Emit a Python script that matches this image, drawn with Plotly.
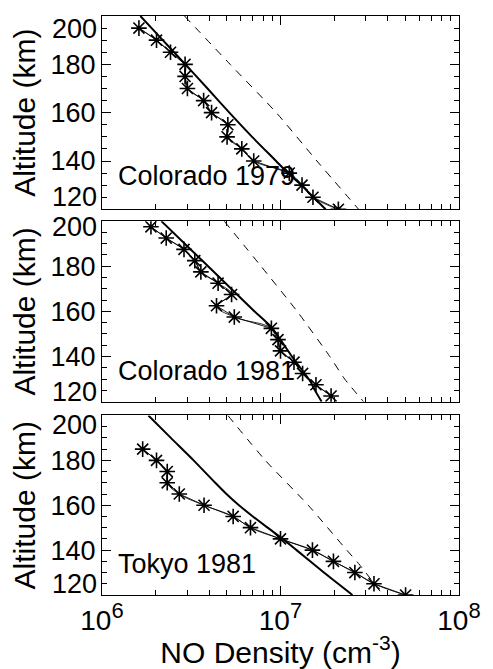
import plotly.graph_objects as go

# ---------------- data ----------------
panel_labels = ["Colorado 1979", "Colorado 1981", "Tokyo 1981"]

# measured NO density profiles (asterisks)
alt_obs_1979 = [195, 190, 185, 180, 175, 170, 165, 160, 155, 150, 145, 140, 135, 130, 125, 120]
no_obs_1979 = [1.61e6, 2.02e6, 2.42e6, 2.92e6, 2.92e6, 3.01e6, 3.71e6, 4.11e6, 5.07e6, 5.02e6,
               6.07e6, 7.08e6, 1.12e7, 1.32e7, 1.52e7, 2.11e7]

alt_obs_c1981 = [197.5, 192.5, 187.5, 182.5, 177.5, 172.5, 167.5, 162.5, 157.5, 152.5,
                 147.5, 142.5, 137.5, 132.5, 127.5, 122.5]
no_obs_c1981 = [1.88e6, 2.29e6, 2.88e6, 3.31e6, 3.58e6, 4.47e6, 5.32e6, 4.38e6, 5.51e6, 8.89e6,
                9.68e6, 1.0e7, 1.19e7, 1.33e7, 1.58e7, 1.92e7]

alt_obs_t1981 = [185, 180, 175, 170, 165, 160, 155, 150, 145, 140, 135, 130, 125, 120]
no_obs_t1981 = [1.69e6, 2.02e6, 2.32e6, 2.32e6, 2.71e6, 3.73e6, 5.43e6, 6.79e6, 1.0e7, 1.51e7,
                1.98e7, 2.61e7, 3.34e7, 5.02e7]

# model profiles (solid)
alt_solid_1979 = [200, 190, 180, 170, 160, 150, 140, 135, 130, 125, 120]
no_solid_1979 = [1.64e6, 2.19e6, 2.93e6, 3.90e6, 5.17e6, 6.93e6, 9.44e6, 1.10e7, 1.31e7, 1.53e7, 1.79e7]

alt_solid_c1981 = [200, 180, 160, 153, 140, 133, 129, 125, 120]
no_solid_c1981 = [2.15e6, 3.93e6, 7.16e6, 8.89e6, 1.16e7, 1.35e7, 1.47e7, 1.56e7, 1.70e7]

alt_solid_t1981 = [200, 190, 180, 170, 165, 160, 155, 150, 145, 140, 130, 120]
no_solid_t1981 = [1.82e6, 2.43e6, 3.26e6, 4.31e6, 4.98e6, 5.85e6, 7.0e6, 8.46e6, 1.03e7, 1.23e7,
                  1.75e7, 2.53e7]

# model profiles (dashed)
alt_dash_1979 = [200, 180, 160, 140, 120]
no_dash_1979 = [2.90e6, 5.22e6, 9.47e6, 1.60e7, 2.74e7]

alt_dash_c1981 = [200, 180, 160, 140, 130, 120]
no_dash_c1981 = [4.84e6, 7.78e6, 1.24e7, 1.89e7, 2.29e7, 2.92e7]

alt_dash_t1981 = [200, 180, 160, 140, 134, 120]
no_dash_t1981 = [5.07e6, 8.22e6, 1.43e7, 2.35e7, 2.74e7, 3.75e7]

y_ticks = [120, 140, 160, 180, 200]
x_ticks = [1e6, 1e7, 1e8]
x_exponents = [6, 7, 8]

panels = [
    (alt_obs_1979, no_obs_1979, alt_solid_1979, no_solid_1979, alt_dash_1979, no_dash_1979),
    (alt_obs_c1981, no_obs_c1981, alt_solid_c1981, no_solid_c1981, alt_dash_c1981, no_dash_c1981),
    (alt_obs_t1981, no_obs_t1981, alt_solid_t1981, no_solid_t1981, alt_dash_t1981, no_dash_t1981),
]

# ---------------- figure ----------------
W, H = 493, 669
ML, MR, MT, MB = 102, 23, 16, 66
FONT = "Liberation Sans, Arial, Helvetica, sans-serif"
TICK_SIZE = 27

domains = [[0.6661, 1.0], [0.3339, 0.6457], [0.0, 0.3101]]
label_shift = [(-13, 12), (-6, 10), (-10, 11)]

minor_x = [m * 10 ** d for d in (6, 7) for m in range(2, 10)]
x_tick_text = [f"10<sup><span style='font-size:22px'>{e}</span></sup>" for e in x_exponents]

fig = go.Figure()
annotations = []

for i, (ao, no, as_, ns, ad, nd) in enumerate(panels):
    n = i + 1
    xa = "x" if n == 1 else f"x{n}"
    ya = "y" if n == 1 else f"y{n}"
    fig.add_trace(go.Scatter(x=nd, y=ad, mode="lines", xaxis=xa, yaxis=ya,
                             line=dict(color="black", width=1, dash="8px,7px",
                                       shape="spline", smoothing=0.6),
                             showlegend=False, hoverinfo="skip"))
    fig.add_trace(go.Scatter(x=ns, y=as_, mode="lines", xaxis=xa, yaxis=ya,
                             line=dict(color="black", width=2, shape="spline", smoothing=0.6),
                             showlegend=False, hoverinfo="skip"))
    fig.add_trace(go.Scatter(x=no, y=ao, mode="lines", xaxis=xa, yaxis=ya,
                             line=dict(color="black", width=0.8, shape="spline", smoothing=1.2),
                             showlegend=False, hoverinfo="skip"))
    fig.add_trace(go.Scatter(x=no, y=ao, mode="lines+markers", xaxis=xa, yaxis=ya,
                             line=dict(color="black", width=0.9),
                             marker=dict(symbol="asterisk-open", size=13,
                                         line=dict(color="black", width=1.6)),
                             showlegend=False, hoverinfo="skip"))

    xkey = "xaxis" if n == 1 else f"xaxis{n}"
    ykey = "yaxis" if n == 1 else f"yaxis{n}"
    xdict = dict(
        type="log", range=[6, 8], domain=[0, 1], anchor=ya,
        ticks="inside", ticklen=9, tickwidth=1, tickcolor="black",
        minor=dict(tickvals=minor_x, ticks="inside", ticklen=5, tickwidth=1, tickcolor="black"),
        showline=True, linecolor="black", linewidth=1, mirror="ticks",
        showgrid=False, zeroline=False,
        tickfont=dict(family=FONT, size=28, color="black"),
    )
    if n == 3:
        xdict.update(tickmode="array", tickvals=x_ticks, ticktext=x_tick_text,
                     showticklabels=True,
                     title=dict(text="NO Density (cm<sup>-3</sup>)",
                                font=dict(family=FONT, size=30, color="black"), standoff=0))
    else:
        xdict.update(tickmode="array", tickvals=x_ticks, showticklabels=False)
    fig.layout[xkey] = xdict
    fig.layout[ykey] = dict(
        range=[120, 200], domain=domains[i], anchor=xa,
        tickmode="array", tickvals=y_ticks[1:-1],
        ticks="inside", ticklen=9, tickwidth=1, tickcolor="black",
        minor=dict(dtick=5, ticks="inside", ticklen=5, tickwidth=1, tickcolor="black"),
        showline=True, linecolor="black", linewidth=1, mirror="ticks",
        showgrid=False, zeroline=False,
        tickfont=dict(family=FONT, size=TICK_SIZE, color="black"),
        title=dict(text="Altitude (km)", font=dict(family=FONT, size=30, color="black"),
                   standoff=6),
    )
    # edge tick labels, shifted inwards as in the original
    top_shift, bot_shift = label_shift[i]
    for v, ys in ((y_ticks[-1], top_shift), (y_ticks[0], bot_shift)):
        annotations.append(dict(text=str(v), xref=f"{xa} domain", yref=ya, x=0, y=v,
                                xanchor="right", yanchor="middle", xshift=-3, yshift=ys,
                                showarrow=False,
                                font=dict(family=FONT, size=TICK_SIZE, color="black")))
    annotations.append(dict(text=panel_labels[i], xref=f"{xa} domain", yref=f"{ya} domain",
                            x=0.04, y=0.17, xanchor="left", yanchor="middle",
                            showarrow=False, font=dict(family=FONT, size=27, color="black")))

fig.update_layout(
    width=W, height=H,
    margin=dict(l=ML, r=MR, t=MT, b=MB),
    paper_bgcolor="white", plot_bgcolor="white",
    annotations=annotations,
    showlegend=False,
)

fig.write_html("out.html")
